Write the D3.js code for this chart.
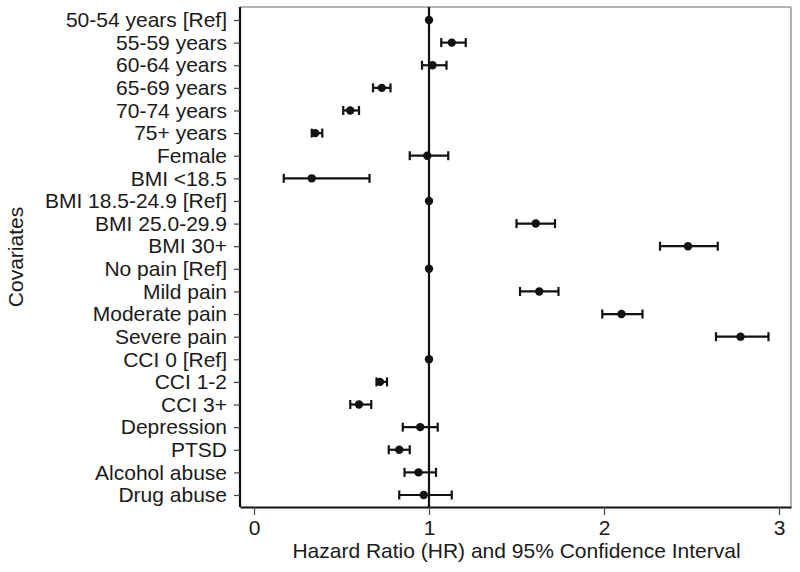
<!DOCTYPE html>
<html>
<head>
<meta charset="utf-8">
<script src="https://cdn.jsdelivr.net/npm/d3@7"></script>
<style>
  html, body { margin: 0; padding: 0; background: #fff; }
  svg { display: block; }
  text { font-family: "Liberation Sans", Arial, sans-serif; fill: #1a1a1a; }
</style>
</head>
<body>
<svg id="chart" width="800" height="572"></svg>
<script>
const categories = [
  "50-54 years [Ref]", "55-59 years", "60-64 years", "65-69 years", "70-74 years",
  "75+ years", "Female", "BMI <18.5", "BMI 18.5-24.9 [Ref]", "BMI 25.0-29.9",
  "BMI 30+", "No pain [Ref]", "Mild pain", "Moderate pain", "Severe pain",
  "CCI 0 [Ref]", "CCI 1-2", "CCI 3+", "Depression", "PTSD", "Alcohol abuse", "Drug abuse"
];
const hr    = [1.00, 1.13, 1.02, 0.73, 0.55, 0.35, 0.99, 0.33, 1.00, 1.61, 2.48, 1.00, 1.63, 2.10, 2.78, 1.00, 0.72, 0.60, 0.95, 0.83, 0.94, 0.97];
const lower = [null, 1.07, 0.96, 0.68, 0.51, 0.33, 0.89, 0.17, null, 1.50, 2.32, null, 1.52, 1.99, 2.64, null, 0.70, 0.55, 0.85, 0.77, 0.86, 0.83];
const upper = [null, 1.21, 1.10, 0.78, 0.60, 0.39, 1.11, 0.66, null, 1.72, 2.65, null, 1.74, 2.22, 2.94, null, 0.76, 0.67, 1.05, 0.89, 1.04, 1.13];
const xTicks = [0, 1, 2, 3];
const xTitle = "Hazard Ratio (HR) and 95% Confidence Interval";
const yTitle = "Covariates";

const data = categories.map((c, i) => ({ c, hr: hr[i], lo: lower[i], hi: upper[i] }));

const svg = d3.select("#chart");
const L = 240, R = 791, T = 7, B = 507;
const unit = 175, zeroX = 254;
const FS = 21;

const x = d3.scaleLinear()
  .domain([(L - zeroX) / unit, (R - zeroX) / unit])
  .range([L, R]);
const y = d3.scalePoint().domain(categories).range([20, 495]);

// frame top/right
svg.append("line").attr("x1", L).attr("x2", R).attr("y1", T).attr("y2", T)
  .attr("stroke", "#9a9a9a").attr("stroke-width", 1.5);
svg.append("line").attr("x1", R).attr("x2", R).attr("y1", T).attr("y2", B)
  .attr("stroke", "#9a9a9a").attr("stroke-width", 1.5);

// reference line at HR=1
svg.append("line").attr("x1", x(1)).attr("x2", x(1)).attr("y1", T).attr("y2", B)
  .attr("stroke", "#111").attr("stroke-width", 2.2);

// axes
const gx = svg.append("g").attr("transform", `translate(0,${B})`)
  .call(d3.axisBottom(x).tickValues(xTicks).tickFormat(d3.format("d")).tickSize(8).tickPadding(5).tickSizeOuter(0));
gx.select(".domain").attr("stroke", "#111").attr("stroke-width", 2.2);
gx.selectAll(".tick line").attr("stroke", "#444").attr("stroke-width", 1.2);
gx.selectAll(".tick text").attr("font-size", FS).style("font-family", '"Liberation Sans", Arial, sans-serif').attr("fill", "#1a1a1a");

const gy = svg.append("g").attr("transform", `translate(${L},0)`)
  .call(d3.axisLeft(y).tickSize(6).tickPadding(7).tickSizeOuter(0));
gy.select(".domain").attr("stroke", "#111").attr("stroke-width", 2.2).attr("d", `M0,${T}V${B}`);
gy.selectAll(".tick line").attr("stroke", "#444").attr("stroke-width", 1.2);
gy.selectAll(".tick text").attr("font-size", FS).style("font-family", '"Liberation Sans", Arial, sans-serif').attr("fill", "#1a1a1a");

// CIs
const ci = svg.append("g").attr("stroke", "#111").attr("stroke-width", 2.2);
data.filter(d => d.lo != null).forEach(d => {
  const yy = y(d.c);
  ci.append("line").attr("x1", x(d.lo)).attr("x2", x(d.hi)).attr("y1", yy).attr("y2", yy);
  ci.append("line").attr("x1", x(d.lo)).attr("x2", x(d.lo)).attr("y1", yy - 4.5).attr("y2", yy + 4.5);
  ci.append("line").attr("x1", x(d.hi)).attr("x2", x(d.hi)).attr("y1", yy - 4.5).attr("y2", yy + 4.5);
});

// points
svg.append("g").selectAll("circle").data(data).join("circle")
  .attr("cx", d => x(d.hr)).attr("cy", d => y(d.c)).attr("r", 4.2).attr("fill", "#111");

// titles
svg.append("text").attr("x", x(1.5)).attr("y", 558).attr("text-anchor", "middle")
  .attr("font-size", FS).text(xTitle);
svg.append("text").attr("transform", "translate(23,257) rotate(-90)").attr("text-anchor", "middle")
  .attr("font-size", FS).text(yTitle);
</script>
</body>
</html>
